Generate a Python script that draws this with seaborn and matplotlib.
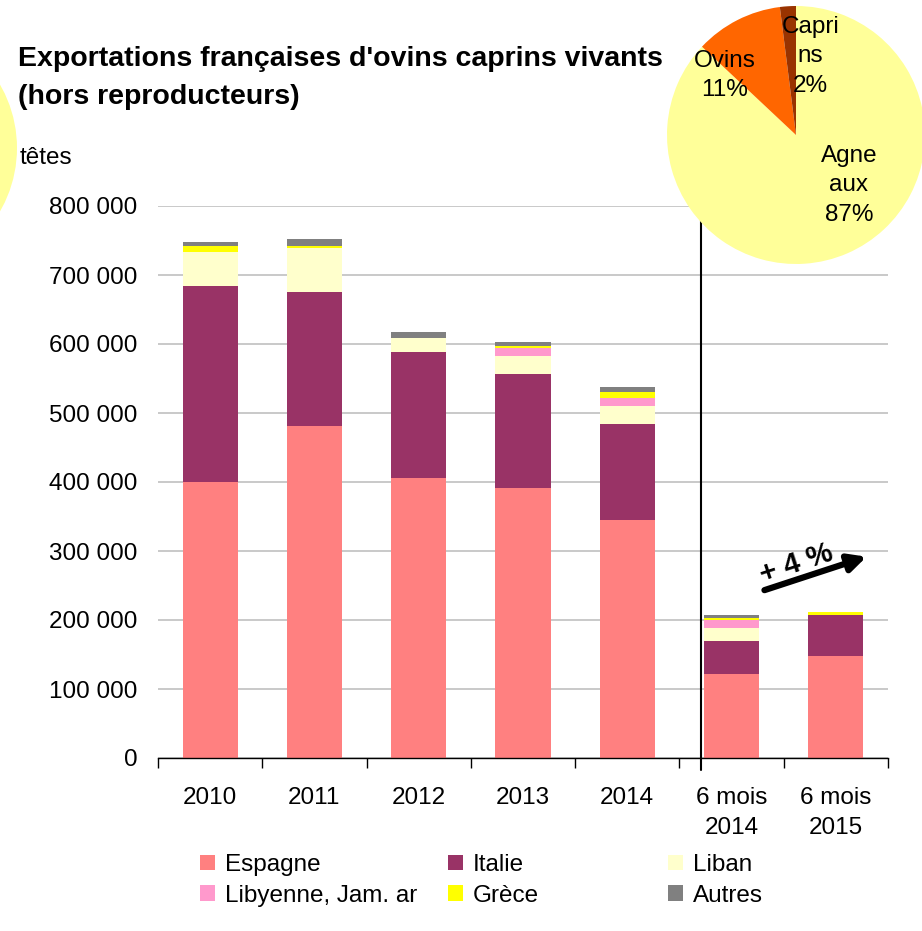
import numpy as np
import pandas as pd
import matplotlib.pyplot as plt
import seaborn as sns
from matplotlib.patches import Patch, Ellipse

# Données (têtes)
periodes = ["2010", "2011", "2012", "2013", "2014", "6 mois\n2014", "6 mois\n2015"]
pays = ["Espagne", "Italie", "Liban", "Libyenne, Jam. ar", "Grèce", "Autres"]
espagne = [400000, 481000, 406000, 391000, 345000, 122000, 148000]
italie = [284000, 194000, 182000, 166000, 139000, 48000, 59000]
liban = [49000, 64000, 21000, 26000, 26000, 18000, 0]
libyenne = [0, 0, 0, 11000, 12000, 12000, 0]
grece = [9000, 3000, 0, 3000, 8000, 3000, 5000]
autres = [6000, 10000, 8000, 6000, 8000, 4000, 0]
couleurs = ["#FF8080", "#993366", "#FFFFCC", "#FF99CC", "#FFFF00", "#808080"]

# Camembert (répartition par catégorie)
pie_noms = ["Agne\naux", "Ovins", "Capri\nns"]
pie_parts = [87, 11, 2]
pie_couleurs = ["#FFFF99", "#FF6600", "#993300"]

sns.set_theme(style="white")
plt.rcParams["font.family"] = ["Liberation Sans", "DejaVu Sans"]
plt.rcParams.update({"text.color": "black", "xtick.color": "black",
                     "ytick.color": "black", "axes.labelcolor": "black"})
FS = 17.5

df = pd.DataFrame(dict(zip(pays, [espagne, italie, liban, libyenne, grece, autres])), index=periodes)
cumul = df.cumsum(axis=1)

W, H = 922, 931
fig = plt.figure(figsize=(W / 100, H / 100), dpi=100)
ax = fig.add_axes([158 / W, 1 - 758 / H, 730 / W, 552 / H])

# barres empilées : on dessine les cumuls du haut vers le bas
for nom, couleur in reversed(list(zip(pays, couleurs))):
    sns.barplot(x=periodes, y=cumul[nom].values, color=couleur, saturation=1,
                width=0.53, linewidth=0, ax=ax, zorder=2)

ax.set_xlim(-0.5, len(periodes) - 0.5)
ax.set_ylim(0, 800000)
yt = np.arange(0, 800001, 100000)
ax.set_yticks(yt)
ax.set_yticklabels([f"{v:,}".replace(",", " ") for v in yt], fontsize=FS)
ax.set_xticks(np.arange(len(periodes)))
ax.set_xticklabels(periodes, fontsize=FS, linespacing=1.45)
ax.set_xticks(np.arange(-0.5, len(periodes)), minor=True)
ax.tick_params(axis="x", which="major", length=0, pad=21)
ax.tick_params(axis="x", which="minor", bottom=True, length=7, width=1, color="black")
ax.tick_params(axis="y", length=0, pad=15)
ax.set_xlabel("")
ax.set_ylabel("")
ax.yaxis.grid(True, color="#C0C0C0", linewidth=1.2)
ax.set_axisbelow(True)
for s in ["left", "top", "right"]:
    ax.spines[s].set_visible(False)
ax.spines["bottom"].set_color("black")
ax.spines["bottom"].set_linewidth(1)

# séparation année / semestre
ax.plot([4.71, 4.71], [-17000, 800000], color="black", lw=1.5, clip_on=False, zorder=3)

# évolution 6 mois
ax.annotate("", xy=(6.32, 293000), xytext=(5.29, 242000),
            arrowprops=dict(arrowstyle="-|>", lw=4.5, color="black", mutation_scale=26))
ax.text(5.62, 282000, "+ 4 %", rotation=18, fontsize=21, fontweight="bold",
        ha="center", va="center")

# titre et unité
fig.text(18 / W, 1 - 46 / H, "Exportations françaises d'ovins caprins vivants\n(hors reproducteurs)",
         fontsize=20.5, fontweight="bold", ha="left", va="top", linespacing=1.6)
fig.text(20 / W, 1 - 158 / H, "têtes", fontsize=FS, ha="left", va="center")

# camembert partiellement visible à gauche
fig.add_artist(Ellipse((-110 / W, 1 - 148 / H), 254 / W, 254 / H,
                       transform=fig.transFigure, color="#FFFF99", lw=0))

# camembert en haut à droite
pax = fig.add_axes([667 / W, 1 - 264 / H, 258 / W, 258 / H], zorder=5)
pax.pie(pie_parts, colors=pie_couleurs, startangle=90, counterclock=False,
        wedgeprops=dict(linewidth=0))
pax.set_xlim(-1, 1)
pax.set_ylim(-1, 1)
pie_pos = [(0.41, -0.39), (-0.55, 0.46), (0.11, 0.61)]
for nom, part, (px, py) in zip(pie_noms, pie_parts, pie_pos):
    pax.text(px, py, f"{nom}\n{part}%", fontsize=FS, ha="center", va="center",
             linespacing=1.45)

# légende en trois colonnes
handles = {nom: Patch(facecolor=c, edgecolor="none") for nom, c in zip(pays, couleurs)}
colonnes = [(200, ["Espagne", "Libyenne, Jam. ar"]),
            (448, ["Italie", "Grèce"]),
            (668, ["Liban", "Autres"])]
for x0, noms in colonnes:
    fig.legend([handles[n] for n in noms], noms, loc="upper left",
               bbox_to_anchor=(x0 / W, 1 - 854 / H), frameon=False,
               fontsize=FS, borderpad=0, borderaxespad=0,
               handlelength=0.62, handleheight=0.62, handletextpad=0.4,
               labelspacing=0.35)

fig.savefig("out.png", dpi=100)
